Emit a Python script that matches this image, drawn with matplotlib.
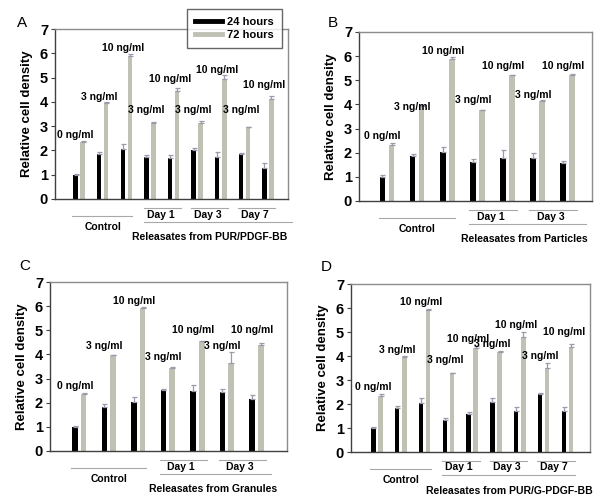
import matplotlib
matplotlib.use('Agg')
import numpy as np
import matplotlib.pyplot as plt
from matplotlib.transforms import blended_transform_factory, ScaledTranslation
from matplotlib.lines import Line2D

plt.rcParams['font.family'] = ['Liberation Sans', 'DejaVu Sans']

BLACK = '#000000'
GRAY = '#bfc1b4'
ERR = '#9a9aaa'
BRACKET = '#a8a8a8'

# ---- data ----
CONC_9 = ['0 ng/ml', '3 ng/ml', '10 ng/ml', '3 ng/ml', '10 ng/ml',
          '3 ng/ml', '10 ng/ml', '3 ng/ml', '10 ng/ml']
CONC_7 = CONC_9[:7]

# A: PUR/PDGF-BB
A_24 = [1.00, 1.85, 2.05, 1.72, 1.68, 2.00, 1.75, 1.85, 1.27]
A_24_ERR = [0.05, 0.08, 0.20, 0.08, 0.12, 0.10, 0.20, 0.06, 0.20]
A_72 = [2.33, 3.97, 5.90, 3.12, 4.45, 3.12, 4.95, 2.95, 4.12]
A_72_ERR = [0.07, 0.02, 0.07, 0.07, 0.12, 0.08, 0.15, 0.02, 0.12]
A_DAYS = ['Day 1', 'Day 3', 'Day 7']
A_SOURCE = 'Releasates from PUR/PDGF-BB'

# B: particles
B_24 = [1.00, 1.85, 2.05, 1.63, 1.80, 1.78, 1.57]
B_24_ERR = [0.06, 0.08, 0.20, 0.12, 0.30, 0.22, 0.08]
B_72 = [2.33, 3.95, 5.90, 3.75, 5.20, 4.15, 5.23]
B_72_ERR = [0.07, 0.03, 0.07, 0.03, 0.02, 0.03, 0.03]
B_DAYS = ['Day 1', 'Day 3']
B_SOURCE = 'Releasates from Particles'

# C: granules
C_24 = [1.00, 1.83, 2.05, 2.52, 2.50, 2.45, 2.15]
C_24_ERR = [0.05, 0.10, 0.20, 0.04, 0.22, 0.13, 0.17]
C_72 = [2.35, 3.97, 5.92, 3.42, 4.55, 3.66, 4.38]
C_72_ERR = [0.06, 0.02, 0.03, 0.08, 0.02, 0.46, 0.08]
C_DAYS = ['Day 1', 'Day 3']
C_SOURCE = 'Releasates from Granules'

# D: PUR/G-PDGF-BB
D_24 = [1.00, 1.83, 2.05, 1.35, 1.58, 2.10, 1.72, 2.42, 1.70]
D_24_ERR = [0.06, 0.10, 0.20, 0.07, 0.10, 0.15, 0.15, 0.03, 0.17]
D_72 = [2.33, 3.97, 5.90, 3.28, 4.35, 4.17, 4.80, 3.52, 4.38]
D_72_ERR = [0.08, 0.02, 0.06, 0.02, 0.06, 0.03, 0.18, 0.18, 0.12]
D_DAYS = ['Day 1', 'Day 3', 'Day 7']
D_SOURCE = 'Releasates from PUR/G-PDGF-BB'

# ---- layout (label heights, axes boxes in px) ----
A_LABEL_Y = [2.65, 4.2, 6.2, 3.68, 4.94, 3.68, 5.33, 3.68, 4.7]
B_LABEL_Y = [2.7, 3.89, 6.22, 4.19, 5.6, 4.4, 5.6]
C_LABEL_Y = [2.7, 4.33, 6.22, 3.89, 5.0, 4.36, 5.0]
D_LABEL_Y = [2.7, 4.27, 6.25, 3.84, 4.7, 4.5, 5.3, 4.0, 4.98]

W, H = 602, 503
FS = 7.5


def px_axes(l, t, r, b):
    return [l / W, 1 - b / H, (r - l) / W, (b - t) / H]


def draw_panel(fig, box, letter, letter_xy, v24, e24, v72, e72, conc, label_y,
               days, source, xlim, long_ext):
    ax = fig.add_axes(px_axes(*box))
    n = len(v24)
    x = np.arange(n)
    w = 0.19
    off = 0.15
    ax.bar(x - off, v24, w, color=BLACK, zorder=2)
    ax.bar(x + off, v72, w, color=GRAY, zorder=2)
    ax.errorbar(x - off, v24, yerr=[np.zeros(n), e24], fmt='none',
                ecolor=ERR, elinewidth=0.9, capsize=1.8, capthick=0.9, zorder=3)
    ax.errorbar(x + off, v72, yerr=[np.zeros(n), e72], fmt='none',
                ecolor=ERR, elinewidth=0.9, capsize=1.8, capthick=0.9, zorder=3)

    for xi, lab, ly in zip(x, conc, label_y):
        ax.text(xi - 0.15, ly, lab, ha='center', va='center',
                fontsize=FS, fontweight='bold')

    ax.set_xlim(*xlim)
    ax.set_ylim(0, 7)
    ax.set_yticks(range(8))
    ax.set_xticks([])
    ax.tick_params(axis='y', length=3, width=0.8, color='#404040', pad=2,
                   labelsize=10.5)
    for t in ax.get_yticklabels():
        t.set_fontweight('bold')
    for s in ['left', 'bottom']:
        ax.spines[s].set_color('#404040')
        ax.spines[s].set_linewidth(1.0)
    for s in ['top', 'right']:
        ax.spines[s].set_color('#8c8c8c')
        ax.spines[s].set_linewidth(1.0)
    ax.set_ylabel('Relative cell density', fontsize=9.5, fontweight='bold',
                  labelpad=5)

    def tr(px):
        return blended_transform_factory(ax.transData, ax.transAxes) + \
            ScaledTranslation(0, -px / 100, fig.dpi_scale_trans)

    # control bracket
    ax.plot([-0.28, 2.25], [0, 0], color=BRACKET, lw=0.8,
            transform=tr(17), clip_on=False)
    ax.text(1.0, 0, 'Control', ha='center', va='center', fontsize=FS,
            fontweight='bold', transform=tr(28))
    # day brackets
    for k, d in enumerate(days):
        g0 = 3 + 2 * k
        ax.plot([g0 - 0.27, g0 + 1 + 0.32], [0, 0], color=BRACKET, lw=0.8,
                transform=tr(8.5), clip_on=False)
        ax.text(g0 + 0.45, 0, d, ha='center', va='center', fontsize=FS,
                fontweight='bold', transform=tr(15.5))
    ax.plot([3 - 0.27, n - 1 + long_ext], [0, 0], color=BRACKET, lw=0.8,
            transform=tr(22.5), clip_on=False)
    ax.text((3 + n - 1) / 2 + 0.05, 0, source, ha='center', va='center',
            fontsize=FS, fontweight='bold', transform=tr(38.5))

    fig.text(letter_xy[0] / W, 1 - letter_xy[1] / H, letter, ha='center',
             va='center', fontsize=11)
    return ax


fig = plt.figure(figsize=(W / 100, H / 100), dpi=100)

axA = draw_panel(fig, (55, 29, 288, 199), 'A', (22, 23), A_24, A_24_ERR, A_72,
                 A_72_ERR, CONC_9, A_LABEL_Y, A_DAYS, A_SOURCE,
                 (-1.02, 8.85), 1.0)
draw_panel(fig, (359, 32, 592, 201), 'B', (333, 23), B_24, B_24_ERR, B_72,
           B_72_ERR, CONC_7, B_LABEL_Y, B_DAYS, B_SOURCE, (-0.93, 6.81), 0.6)
draw_panel(fig, (50, 282, 287, 451), 'C', (25, 266), C_24, C_24_ERR, C_72,
           C_72_ERR, CONC_7, C_LABEL_Y, C_DAYS, C_SOURCE, (-0.99, 7.04), 0.5)
draw_panel(fig, (351, 284, 590, 452), 'D', (326, 267), D_24, D_24_ERR, D_72,
           D_72_ERR, CONC_9, D_LABEL_Y, D_DAYS, D_SOURCE, (-1.09, 8.95), 0.3)

handles = [Line2D([], [], color=BLACK, lw=3.5),
           Line2D([], [], color=GRAY, lw=3.5)]
leg = fig.legend(handles, ['24 hours', '72 hours'], loc='upper right',
                 bbox_to_anchor=(282 / W, 1 - 9 / H), frameon=True,
                 fancybox=False, prop={'weight': 'bold', 'size': 8},
                 handlelength=2.4, labelspacing=0.3, borderpad=0.7,
                 handletextpad=0.5, borderaxespad=0)
leg.get_frame().set_edgecolor('#404040')
leg.get_frame().set_linewidth(1.0)

fig.savefig('out.png', dpi=100)
